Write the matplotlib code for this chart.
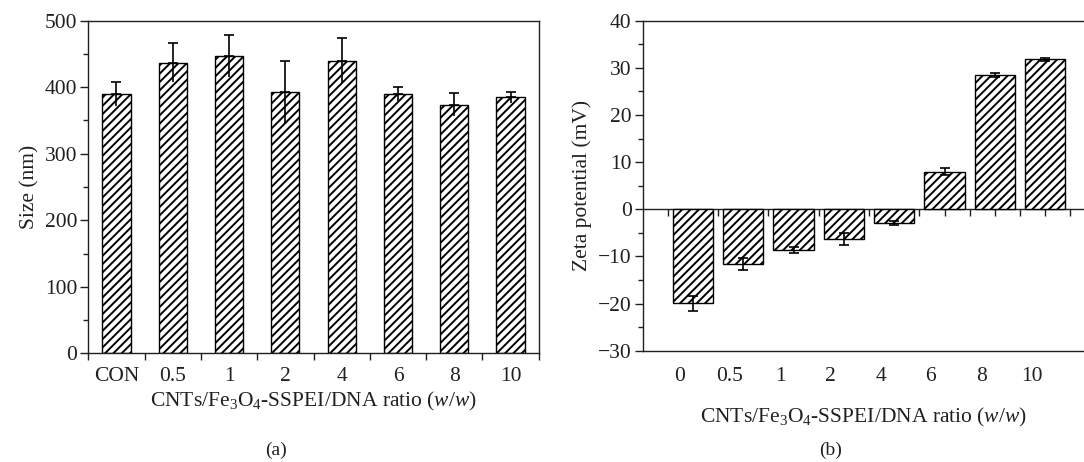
import matplotlib
matplotlib.use("Agg")
import matplotlib.pyplot as plt
import numpy as np
from matplotlib.ticker import MultipleLocator, FixedLocator

# ---- data ----
size_labels = ["CON", "0.5", "1", "2", "4", "6", "8", "10"]
size_values = [390, 437, 447, 393, 440, 390, 374, 385]
size_errors = [18, 29, 31, 47, 34, 10, 17, 8]

zeta_labels = ["0", "0.5", "1", "2", "4", "6", "8", "10"]
zeta_values = [-19.9, -11.6, -8.7, -6.3, -2.9, 8.0, 28.5, 31.8]
zeta_errors = [1.6, 1.2, 0.6, 1.3, 0.5, 0.8, 0.5, 0.3]

TXT = "#231f20"
plt.rcParams['font.family'] = ['Liberation Serif', 'DejaVu Serif']
plt.rcParams['mathtext.fontset'] = 'custom'
plt.rcParams['mathtext.rm'] = 'Liberation Serif'
plt.rcParams['mathtext.it'] = 'Liberation Serif:italic'
plt.rcParams['hatch.linewidth'] = 1.4
plt.rcParams['hatch.color'] = 'black'
plt.rcParams['text.color'] = TXT
plt.rcParams['axes.labelcolor'] = TXT
plt.rcParams['xtick.color'] = TXT
plt.rcParams['ytick.color'] = TXT
plt.rcParams['axes.edgecolor'] = TXT

FS = 15.5
W, H = 1084, 462
fig = plt.figure(figsize=(W / 100, H / 100), dpi=100)

xlabel = r'CNTs/Fe$_3$O$_4$-SSPEI/DNA ratio ($w$/$w$)'

# ---- panel a ----
axa = fig.add_axes([88.3 / W, 1 - 353.3 / H, (538.7 - 88.3) / W, (353.3 - 20.7) / H])
xa = np.arange(len(size_labels))
axa.bar(xa, size_values, width=0.5, color='white', edgecolor='black',
        linewidth=1.0, hatch='////', zorder=2)
axa.errorbar(xa, size_values, yerr=[np.zeros(len(xa)), size_errors], fmt='none',
             ecolor='black', elinewidth=1.2, capsize=3.5, capthick=1.2, zorder=3)
axa.errorbar(xa, size_values, yerr=[size_errors, np.zeros(len(xa))], fmt='none',
             ecolor='black', elinewidth=1.2, capsize=0, zorder=3)
axa.set_xlim(-0.5, 7.5)
axa.set_ylim(0, 500)
axa.set_xticks(xa)
axa.set_xticklabels(size_labels, fontsize=FS)
axa.xaxis.set_minor_locator(FixedLocator(np.arange(-0.5, 8, 1.0)))
axa.tick_params(axis='x', which='major', length=0, pad=10)
axa.tick_params(axis='x', which='minor', length=5, width=1, direction='out')
axa.yaxis.set_major_locator(MultipleLocator(100))
axa.yaxis.set_minor_locator(MultipleLocator(50))
axa.tick_params(axis='y', which='major', length=6, width=1, direction='out', labelsize=FS, pad=2)
axa.tick_params(axis='y', which='minor', length=3.5, width=1, direction='out')
for s in axa.spines.values():
    s.set_linewidth(1.0)
axa.set_ylabel('Size (nm)', fontsize=FS, labelpad=4)
axa.set_xlabel(xlabel, fontsize=FS, labelpad=3)
fig.text(276 / W, 1 - 450 / H, '(a)', fontsize=FS - 1.5, ha='center', va='center')

# ---- panel b ----
x_right = (1084 - 693) / 50.3
axb = fig.add_axes([642.7 / W, 1 - 350.7 / H, (1084 - 642.7) / W, (350.7 - 20.7) / H])
xb = np.arange(len(zeta_labels))
axb.bar(xb, zeta_values, width=0.8, color='white', edgecolor='black',
        linewidth=1.0, hatch='////', zorder=2)
axb.errorbar(xb, zeta_values, yerr=zeta_errors, fmt='none', ecolor='black',
             elinewidth=1.2, capsize=3.5, capthick=1.2, zorder=3)
axb.set_xlim(-1, x_right)
axb.set_ylim(-30, 40)
axb.spines['right'].set_visible(False)
axb.spines['bottom'].set_position(('data', 0))
axb.spines['bottom'].set_zorder(1)
axb.set_xticks(np.arange(-0.5, 8, 0.5))
axb.set_xticklabels([])
axb.tick_params(axis='x', which='major', length=5, width=1, direction='out')
axb.yaxis.set_major_locator(MultipleLocator(10))
axb.yaxis.set_minor_locator(MultipleLocator(5))
axb.tick_params(axis='y', which='major', length=6, width=1, direction='out', labelsize=FS, pad=2)
axb.tick_params(axis='y', which='minor', length=3.5, width=1, direction='out')
axb.set_yticks(np.arange(-30, 41, 10))
axb.set_yticklabels([str(v).replace('-', '\u2212') for v in range(-30, 41, 10)])
for s in axb.spines.values():
    s.set_linewidth(1.0)
axb.set_ylabel('Zeta potential (mV)', fontsize=FS, labelpad=4)

sec = axb.secondary_xaxis('bottom')
sec.set_xticks(xb - 0.27)
sec.set_xticklabels(zeta_labels, fontsize=FS)
sec.tick_params(axis='x', length=0, pad=12)
sec.spines['bottom'].set_linewidth(1.0)
sec.set_xlabel(xlabel, fontsize=FS, labelpad=14)
fig.text(831 / W, 1 - 450 / H, '(b)', fontsize=FS - 1.5, ha='center', va='center')

fig.savefig('out.png', dpi=100)
